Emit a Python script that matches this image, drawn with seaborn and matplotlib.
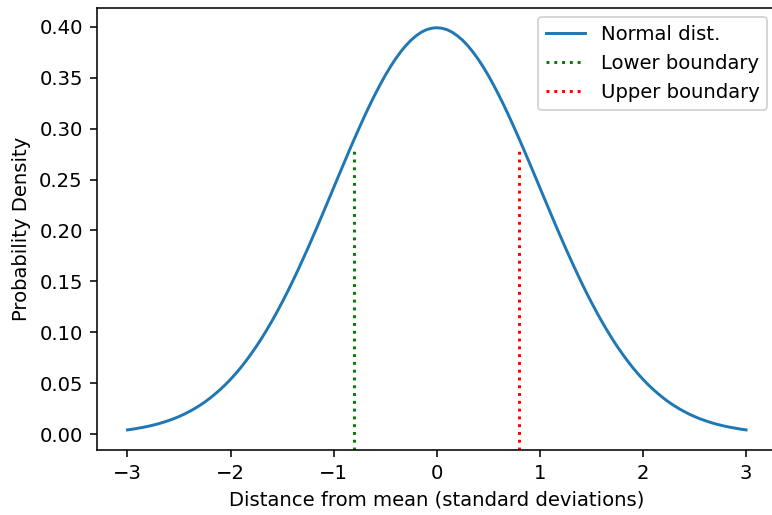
import matplotlib
matplotlib.use("Agg")
import matplotlib.pyplot as plt
import seaborn as sns
import pandas as pd

# Standard normal density sampled every 0.05 standard deviations (0 to 3)
half_density = [0.3989, 0.3984, 0.3970, 0.3945, 0.3910, 0.3867, 0.3814, 0.3752,
                0.3683, 0.3605, 0.3521, 0.3429, 0.3332, 0.3230, 0.3123, 0.3011,
                0.2897, 0.2780, 0.2661, 0.2541, 0.2420, 0.2299, 0.2179, 0.2059,
                0.1942, 0.1826, 0.1714, 0.1604, 0.1497, 0.1394, 0.1295, 0.1200,
                0.1109, 0.1023, 0.0940, 0.0863, 0.0790, 0.0721, 0.0656, 0.0596,
                0.0540, 0.0488, 0.0440, 0.0396, 0.0355, 0.0317, 0.0283, 0.0252,
                0.0224, 0.0198, 0.0175, 0.0154, 0.0136, 0.0119, 0.0104, 0.0091,
                0.0079, 0.0069, 0.0060, 0.0051, 0.0044]
density = half_density[:0:-1] + half_density
z_values = [round(-3.0 + 0.05 * i, 2) for i in range(len(density))]

lower_bound = -0.8
upper_bound = 0.8
boundary_height = 0.281

df = pd.DataFrame({"z": z_values, "density": density})

dpi = 141
fig = plt.figure(figsize=(772 / dpi, 515 / dpi), dpi=dpi)
ax = fig.add_axes([0.125, 0.1262, 0.8815, 0.859])

sns.lineplot(data=df, x="z", y="density", ax=ax, color="#1f77b4",
             linewidth=1.5, label="Normal dist.")
ax.margins(x=0.05, y=0.05)
ax.autoscale_view()
y0, y1 = ax.get_ylim()
frac = (boundary_height - y0) / (y1 - y0)
ax.axvline(lower_bound, ymax=frac, color="green", linestyle=":", linewidth=1.5,
           label="Lower boundary")
ax.axvline(upper_bound, ymax=frac, color="red", linestyle=":", linewidth=1.5,
           label="Upper boundary")

# the right edge of the axes lies just beyond the canvas
ax.spines["right"].set_visible(False)

ax.set_xlabel("Distance from mean (standard deviations)")
ax.set_ylabel("Probability Density")
ax.legend(loc="upper right")

fig.savefig("out.png", dpi=dpi)
